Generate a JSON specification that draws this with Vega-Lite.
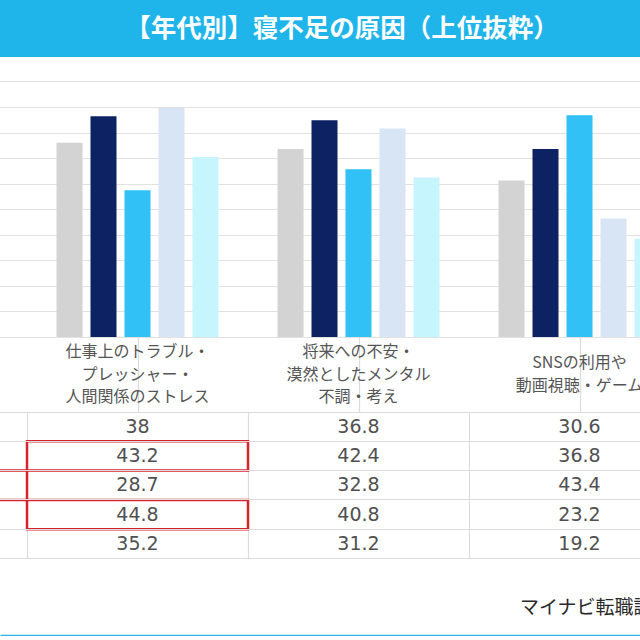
{
  "$schema": "https://vega.github.io/schema/vega-lite/v6.json",
  "padding": 0,
  "spacing": 0,
  "bounds": "flush",
  "background": "white",
  "config": {
    "view": {"stroke": null},
    "text": {"font": "Noto Sans CJK JP"},
    "axis": {"labels": false, "ticks": false, "domain": false, "gridColor": "#dcdcdc", "gridWidth": 1.2}
  },
  "datasets": {
    "title": [{"text": "【年代別】寝不足の原因（上位抜粋）"}],
    "bars": [
      {"category": "仕事上のトラブル・プレッシャー・人間関係のストレス", "age": "全体", "pct": 38},
      {"category": "仕事上のトラブル・プレッシャー・人間関係のストレス", "age": "20代", "pct": 43.2},
      {"category": "仕事上のトラブル・プレッシャー・人間関係のストレス", "age": "30代", "pct": 28.7},
      {"category": "仕事上のトラブル・プレッシャー・人間関係のストレス", "age": "40代", "pct": 44.8},
      {"category": "仕事上のトラブル・プレッシャー・人間関係のストレス", "age": "50代", "pct": 35.2},
      {"category": "将来への不安・漠然としたメンタル不調・考え", "age": "全体", "pct": 36.8},
      {"category": "将来への不安・漠然としたメンタル不調・考え", "age": "20代", "pct": 42.4},
      {"category": "将来への不安・漠然としたメンタル不調・考え", "age": "30代", "pct": 32.8},
      {"category": "将来への不安・漠然としたメンタル不調・考え", "age": "40代", "pct": 40.8},
      {"category": "将来への不安・漠然としたメンタル不調・考え", "age": "50代", "pct": 31.2},
      {"category": "SNSの利用や動画視聴・ゲーム", "age": "全体", "pct": 30.6},
      {"category": "SNSの利用や動画視聴・ゲーム", "age": "20代", "pct": 36.8},
      {"category": "SNSの利用や動画視聴・ゲーム", "age": "30代", "pct": 43.4},
      {"category": "SNSの利用や動画視聴・ゲーム", "age": "40代", "pct": 23.2},
      {"category": "SNSの利用や動画視聴・ゲーム", "age": "50代", "pct": 19.2}
    ],
    "headers": [
      {"category": "仕事上のトラブル・プレッシャー・人間関係のストレス", "label": ["仕事上のトラブル・", "プレッシャー・", "人間関係のストレス"]},
      {"category": "将来への不安・漠然としたメンタル不調・考え", "label": ["将来への不安・", "漠然としたメンタル", "不調・考え"]},
      {"category": "SNSの利用や動画視聴・ゲーム", "label": ["SNSの利用や", "動画視聴・ゲーム"]}
    ],
    "highlights": [
      {"category": "左列", "age": "30代"},
      {"category": "仕事上のトラブル・プレッシャー・人間関係のストレス", "age": "20代"},
      {"category": "仕事上のトラブル・プレッシャー・人間関係のストレス", "age": "40代"}
    ],
    "footer": [{"text": "マイナビ転職調べ"}]
  },
  "vconcat": [
    {
      "width": 640,
      "height": 57,
      "view": {"fill": "#1fb5ea", "stroke": null},
      "data": {"name": "title"},
      "mark": {"type": "text", "color": "white", "fontSize": 25.5, "fontWeight": "bold", "dx": 22},
      "encoding": {
        "x": {"field": "text", "type": "nominal", "axis": null},
        "y": {"field": "text", "type": "nominal", "axis": null},
        "text": {"field": "text"}
      }
    },
    {
      "width": 640,
      "height": 280,
      "data": {"name": "bars"},
      "mark": {"type": "bar", "clip": true},
      "encoding": {
        "x": {
          "field": "category", "type": "nominal", "sort": null,
          "scale": {"domain": ["左列", "仕事上のトラブル・プレッシャー・人間関係のストレス", "将来への不安・漠然としたメンタル不調・考え", "SNSの利用や動画視聴・ゲーム"], "range": [-194, 690], "paddingInner": 0, "paddingOuter": 0},
          "axis": null
        },
        "xOffset": {
          "field": "age", "type": "nominal", "sort": null,
          "scale": {"domain": ["全体", "20代", "30代", "40代", "50代"], "paddingInner": 0.235, "paddingOuter": 0.868}
        },
        "y": {
          "field": "pct", "type": "quantitative",
          "scale": {"domain": [0, 54.78], "nice": false},
          "axis": {"values": [0, 5, 10, 15, 20, 25, 30, 35, 40, 45, 50], "grid": true, "title": null, "gridColor": "#e2e2e2"}
        },
        "color": {
          "field": "age", "type": "nominal",
          "scale": {"domain": ["全体", "20代", "30代", "40代", "50代"], "range": ["#d3d3d3", "#0c2262", "#31c1f6", "#d8e5f4", "#c6f5fd"]},
          "legend": null
        }
      }
    },
    {
      "width": 640,
      "height": 75,
      "data": {"name": "headers"},
      "encoding": {
        "x": {
          "field": "category", "type": "nominal", "sort": null,
          "scale": {"domain": ["左列", "仕事上のトラブル・プレッシャー・人間関係のストレス", "将来への不安・漠然としたメンタル不調・考え", "SNSの利用や動画視聴・ゲーム"], "range": [-194, 690], "paddingInner": 0, "paddingOuter": 0},
          "axis": {"values": ["仕事上のトラブル・プレッシャー・人間関係のストレス", "将来への不安・漠然としたメンタル不調・考え", "SNSの利用や動画視聴・ゲーム"], "bandPosition": 0, "grid": true, "title": null}
        },
        "text": {"field": "label"}
      },
      "layer": [
        {
          "transform": [{"filter": "length(datum.label) == 3"}],
          "mark": {"type": "text", "fontSize": 16, "color": "#555555", "lineHeight": 22.5, "baseline": "middle", "dy": -22.5, "clip": true}
        },
        {
          "transform": [{"filter": "length(datum.label) == 2"}],
          "mark": {"type": "text", "fontSize": 16, "color": "#555555", "lineHeight": 22.5, "baseline": "middle", "dy": -11.25, "clip": true}
        }
      ]
    },
    {
      "width": 640,
      "height": 146.5,
      "layer": [
        {
          "data": {"name": "bars"},
          "mark": {"type": "text", "font": "DejaVu Sans", "fontSize": 19, "color": "#505050", "clip": true},
          "encoding": {
            "x": {
              "field": "category", "type": "nominal", "sort": null,
              "scale": {"domain": ["左列", "仕事上のトラブル・プレッシャー・人間関係のストレス", "将来への不安・漠然としたメンタル不調・考え", "SNSの利用や動画視聴・ゲーム"], "range": [-194, 690], "paddingInner": 0, "paddingOuter": 0},
              "axis": {"values": ["仕事上のトラブル・プレッシャー・人間関係のストレス", "将来への不安・漠然としたメンタル不調・考え", "SNSの利用や動画視聴・ゲーム"], "bandPosition": 0, "grid": true, "title": null}
            },
            "y": {
              "field": "age", "type": "nominal", "sort": null,
              "scale": {"domain": ["全体", "20代", "30代", "40代", "50代"], "paddingInner": 0, "paddingOuter": 0},
              "axis": {"bandPosition": 0, "grid": true, "title": null}
            },
            "text": {"field": "pct", "type": "quantitative", "format": ".1~f"}
          }
        },
        {
          "data": {"name": "highlights"},
          "mark": {"type": "rect", "filled": false, "color": "#d7232a", "strokeWidth": 2.5, "clip": true},
          "encoding": {
            "x": {
              "field": "category", "type": "nominal", "sort": null,
              "scale": {"domain": ["左列", "仕事上のトラブル・プレッシャー・人間関係のストレス", "将来への不安・漠然としたメンタル不調・考え", "SNSの利用や動画視聴・ゲーム"], "range": [-194, 690], "paddingInner": 0, "paddingOuter": 0},
              "axis": {"values": ["仕事上のトラブル・プレッシャー・人間関係のストレス", "将来への不安・漠然としたメンタル不調・考え", "SNSの利用や動画視聴・ゲーム"], "bandPosition": 0, "grid": true, "title": null}
            },
            "y": {
              "field": "age", "type": "nominal", "sort": null,
              "scale": {"domain": ["全体", "20代", "30代", "40代", "50代"], "paddingInner": 0, "paddingOuter": 0},
              "axis": {"bandPosition": 1, "grid": true, "title": null}
            }
          }
        }
      ],
      "resolve": {"axis": {"y": "independent"}}
    },
    {
      "width": 640,
      "height": 77,
      "data": {"name": "footer"},
      "mark": {"type": "text", "align": "left", "dx": 200, "dy": 10.5, "fontSize": 19, "color": "#2a2a2a", "clip": true},
      "encoding": {
        "x": {
          "field": "text", "type": "nominal",
          "axis": {"orient": "bottom", "domain": true, "domainColor": "#2ab4e7", "domainWidth": 3.5, "grid": false, "title": null}
        },
        "text": {"field": "text"}
      }
    }
  ]
}
